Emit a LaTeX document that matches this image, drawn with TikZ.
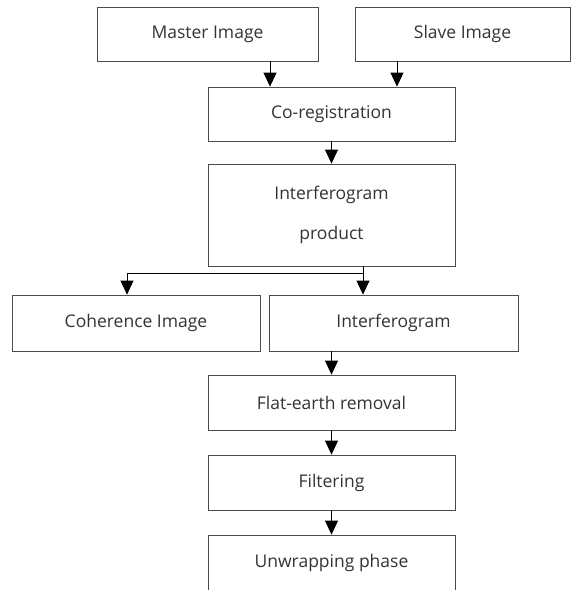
\documentclass[tikz,border=0pt]{standalone}
\usepackage{fontspec}
\setmainfont{Open Sans}
\usetikzlibrary{arrows.meta}

\tikzset{
    stepbox/.style = {draw = black!70, line width = 0.8pt, minimum width = 247pt,
        minimum height = 54pt, inner sep = 0pt, text = black!80,
        font = \fontsize{17.5}{40}\selectfont, align = center},
    arr/.style = {line width = 0.8pt, -{Triangle[length = 14pt, width = 13pt]}}
}

\begin{document}
\begin{tikzpicture}[x = 1pt, y = -1pt]
        \useasboundingbox (0,0) rectangle (574,590);
        \clip (0,0) rectangle (574,590);
        \node[stepbox, minimum width = 221pt] (master) at (207.5,34) {Master Image};
        \node[stepbox, minimum width = 215pt] (slave) at (462.5,34) {Slave Image};
        \node[stepbox] (coreg) at (331.5,114) {Co-registration};
        \node[stepbox, minimum height = 102pt] (product) at (331.5,215) {Interferogram\\product};
        \node[stepbox, minimum width = 248pt, minimum height = 56pt] (coherence) at (136,323) {Coherence Image};
        \node[stepbox, minimum width = 249pt, minimum height = 56pt] (interf) at (393.5,323) {Interferogram};
        \node[stepbox, minimum height = 55pt] (flat) at (331.5,402.5) {Flat-earth removal};
        \node[stepbox, minimum height = 55pt] (filter) at (331.5,482.5) {Filtering};
        \node[stepbox, minimum height = 64pt] (unwrap) at (331.5,567) {};
        \node[text = black!80, font = \fontsize{17.5}{20}\selectfont] (unwraptext) at (331.5,562.5) {Unwrapping phase};
        % arrows
        \draw[arr] ([xshift = 62.5pt]master.south) -- ([xshift = 62.5pt]master.south |- coreg.north);
        \draw[arr] ([xshift = -65.5pt]slave.south) -- ([xshift = -65.5pt]slave.south |- coreg.north);
        \draw[arr] (coreg.south) -- (product.north);
        \coordinate (split) at ([xshift = -30.5pt, yshift = -7pt]interf.north |- product.south);
        \draw[line width = 0.8pt] (split |- product.south) -- (split);
        \draw[arr] (split) -- (split |- interf.north);
        \draw[arr] (split) -| ([xshift = -9pt]coherence.north);
        \draw[arr] (interf.south -| flat.north) -- (flat.north);
        \draw[arr] (flat.south) -- (filter.north);
        \draw[arr] (filter.south) -- (unwrap.north);
    \end{tikzpicture}
\end{document}
